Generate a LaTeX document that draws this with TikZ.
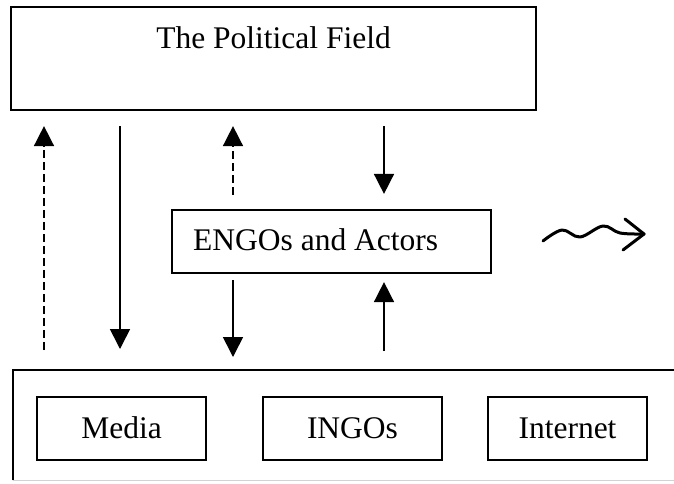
\documentclass[tikz,border=0pt]{standalone}
\usepackage{fontspec}
\setmainfont{Liberation Serif}
\usetikzlibrary{arrows.meta}
\begin{document}
\begin{tikzpicture}[x=1pt,y=-1pt,
  box/.style={draw=black, line width=2.2pt, inner sep=0pt},
  lbl/.style={font=\fontsize{31.5}{36}\selectfont, inner sep=0pt},
  inbox/.style={box, lbl, minimum height=63pt, text height=21pt, text depth=2pt},
  conn/.style={line width=1.6pt, -{Triangle[width=20pt,length=20pt]}},
  dashconn/.style={conn, dash pattern=on 8pt off 4pt},
  squig/.style={line width=3pt, line cap=round, line join=round}]
\useasboundingbox (0,0) rectangle (674,483);
\fill[white] (0,0) rectangle (674,483);
% top box
\node[box, minimum width=525pt, minimum height=103pt] (pol) at (273.5,58.5) {};
\node[lbl, anchor=base] (poltxt) at (273.5,48) {The Political Field};
% middle box
\node[box, minimum width=319pt, minimum height=63pt] (eng) at (331.5,241.5) {};
\node[lbl, anchor=base west] (engtxt) at (193,250) {ENGOs and Actors};
% bottom container
\node[draw=none, inner sep=0pt, minimum width=700pt, minimum height=110pt, anchor=north west] (env) at (13,370) {};
\draw[line width=2.2pt] (env.south west) -- (env.north west) -- (env.north east);
\draw[gray!35, line width=1.5pt] (env.south west) -- (env.south east);
\node[inbox, minimum width=169pt] (media) at (121.5,428.5) {Media};
\node[inbox, minimum width=179pt] (ingos) at (352.5,428.5) {INGOs};
\node[inbox, minimum width=159pt] (inet) at (567.5,428.5) {Internet};
% arrow columns
\coordinate (x1) at (44,0);
\coordinate (x2) at (120,0);
\coordinate (x3) at (233,0);
\coordinate (x4) at (384,0);
\draw[dashconn, shorten <=20pt, shorten >=15pt] (env.north -| x1) -- (pol.south -| x1);
\draw[conn, shorten <=15pt, shorten >=21pt] (pol.south -| x2) -- (env.north -| x2);
\draw[dashconn, shorten <=14pt, shorten >=15pt] (eng.north -| x3) -- (pol.south -| x3);
\draw[conn, shorten <=15pt, shorten >=15pt] (pol.south -| x4) -- (eng.north -| x4);
\draw[conn, shorten <=6pt, shorten >=13pt] (eng.south -| x3) -- (env.north -| x3);
\draw[conn, shorten <=19pt, shorten >=8pt] (env.north -| x4) -- (eng.south -| x4);
% wavy arrow
\draw[squig] plot[smooth, tension=0.6] coordinates {(543,241) (562,230) (580,237) (603,226) (620,233) (644,234)};
\draw[squig] (625,219) -- (644,234) -- (623,250);
\end{tikzpicture}
\end{document}
